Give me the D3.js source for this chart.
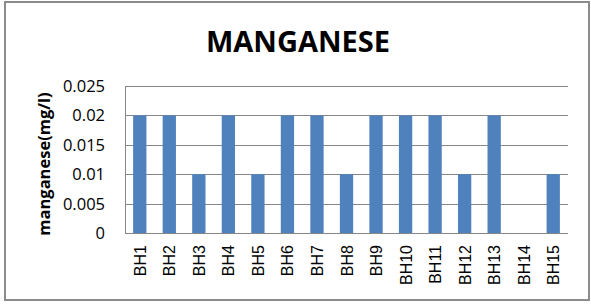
<!DOCTYPE html>
<html>
<head>
<meta charset="utf-8">
<script src="https://cdn.jsdelivr.net/npm/d3@7"></script>
<style>
body { margin: 0; background: #fff; }
</style>
</head>
<body>
<div class="chart"></div>
<script>
const categories = ["BH1","BH2","BH3","BH4","BH5","BH6","BH7","BH8","BH9","BH10","BH11","BH12","BH13","BH14","BH15"];
const values = [0.02,0.02,0.01,0.02,0.01,0.02,0.02,0.01,0.02,0.02,0.02,0.01,0.02,0,0.01];
const yTicks = [0,0.005,0.01,0.015,0.02,0.025];
const chartTitle = "MANGANESE";
const yTitle = "manganese(mg/l)";

const width = 591;
const height = 306;
const plotLeft = 125, plotRight = 568, plotTop = 86, plotBottom = 233;

const svg = d3.select('.chart')
	.append('svg')
	.attr('width', width)
	.attr('height', height)

// outer frame
svg.append("rect")
	.attr("x", 5).attr("y", 2)
	.attr("width", 584).attr("height", 298)
	.attr("fill", "white")
	.attr("stroke", "#8c8c8c")
	.attr("stroke-width", 2)

const x = d3.scaleBand().domain(categories).range([plotLeft, plotRight]).paddingInner(0.55).paddingOuter(0.275)
const y = d3.scaleLinear().domain([0, 0.025]).range([plotBottom, plotTop])

// gridlines
svg.append("g")
	.selectAll("line")
	.data(yTicks)
	.enter()
	.append("line")
	.attr("x1", plotLeft).attr("x2", plotRight)
	.attr("y1", d => Math.round(y(d)) + 0.5)
	.attr("y2", d => Math.round(y(d)) + 0.5)
	.attr("stroke", "#868686")

// y axis line
svg.append("line")
	.attr("x1", plotLeft + 0.5).attr("x2", plotLeft + 0.5)
	.attr("y1", plotTop).attr("y2", plotBottom + 0.5)
	.attr("stroke", "#868686")

// bars
svg.append("g")
	.selectAll("rect")
	.data(values)
	.enter()
	.append("rect")
	.attr("x", (d, i) => x(categories[i]))
	.attr("y", d => y(d))
	.attr("width", x.bandwidth())
	.attr("height", d => y(0) - y(d))
	.attr("fill", "#4f81bd")

// y tick labels
svg.append("g")
	.selectAll("text")
	.data(yTicks)
	.enter()
	.append("text")
	.attr("x", 105)
	.attr("y", d => y(d) + 6)
	.attr("text-anchor", "end")
	.attr("font-family", "Open Sans")
	.attr("font-size", "16.5px")
	.text(d => d === 0 ? "0" : String(d))

// x tick labels
svg.append("g")
	.selectAll("text")
	.data(categories)
	.enter()
	.append("text")
	.attr("transform", d => `translate(${x(d) + x.bandwidth() / 2 + 6},245) rotate(-90)`)
	.attr("text-anchor", "end")
	.attr("font-family", "Liberation Sans")
	.attr("font-size", "16px")
	.text(d => d)

// title
svg.append("text")
	.attr("x", 298)
	.attr("y", 52)
	.attr("text-anchor", "middle")
	.attr("font-family", "Open Sans")
	.attr("font-weight", "bold")
	.attr("font-size", "29px")
	.text(chartTitle)

// y axis title
svg.append("text")
	.attr("transform", "translate(50,164) rotate(-90)")
	.attr("text-anchor", "middle")
	.attr("font-family", "Open Sans")
	.attr("font-weight", "bold")
	.attr("font-size", "16.5px")
	.text(yTitle)
</script>
</body>
</html>
